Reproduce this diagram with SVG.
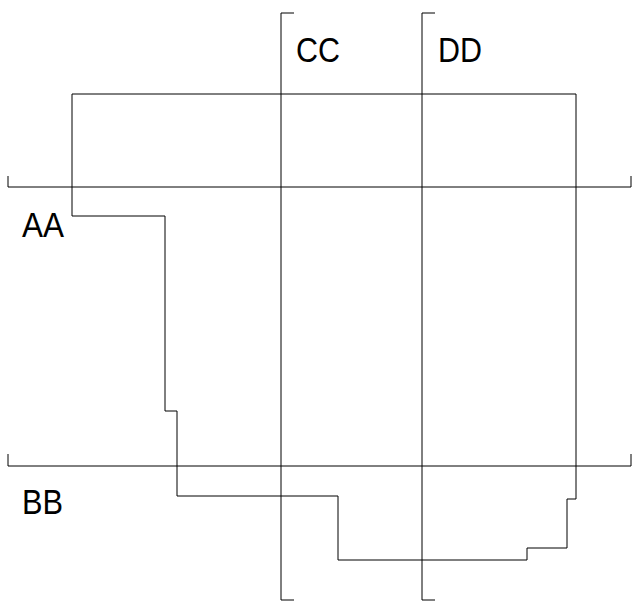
<svg xmlns="http://www.w3.org/2000/svg" width="644" height="604" viewBox="0 0 644 604">
<style>
.ln{fill:none;stroke:#000;stroke-width:1}
.lbl{font-family:"Liberation Sans",Arial,sans-serif;font-size:35px;fill:#000}
</style>
<rect width="644" height="604" fill="#fff"/>
<g id="connectors">
<path id="axis-AA" class="ln" d="M8,176 V187 H631 V176"/>
<path id="axis-BB" class="ln" d="M8,454 V466 H631 V454"/>
<path id="axis-CC" class="ln" d="M294,13 H281 V600 H294"/>
<path id="axis-DD" class="ln" d="M435,13 H422 V600 H435"/>
</g>
<g id="shape">
<path class="ln" d="M72,94 H576 V499 H567 V548 H527 V560 H338 V496 H177 V411 H165 V216 H72 Z"/>
</g>
<g id="label-AA"><text class="lbl" x="22" y="237" textLength="42" lengthAdjust="spacingAndGlyphs">AA</text></g>
<g id="label-BB"><text class="lbl" x="22" y="514" textLength="41" lengthAdjust="spacingAndGlyphs">BB</text></g>
<g id="label-CC"><text class="lbl" x="296" y="62" textLength="44" lengthAdjust="spacingAndGlyphs">CC</text></g>
<g id="label-DD"><text class="lbl" x="438" y="62" textLength="44" lengthAdjust="spacingAndGlyphs">DD</text></g>
</svg>
